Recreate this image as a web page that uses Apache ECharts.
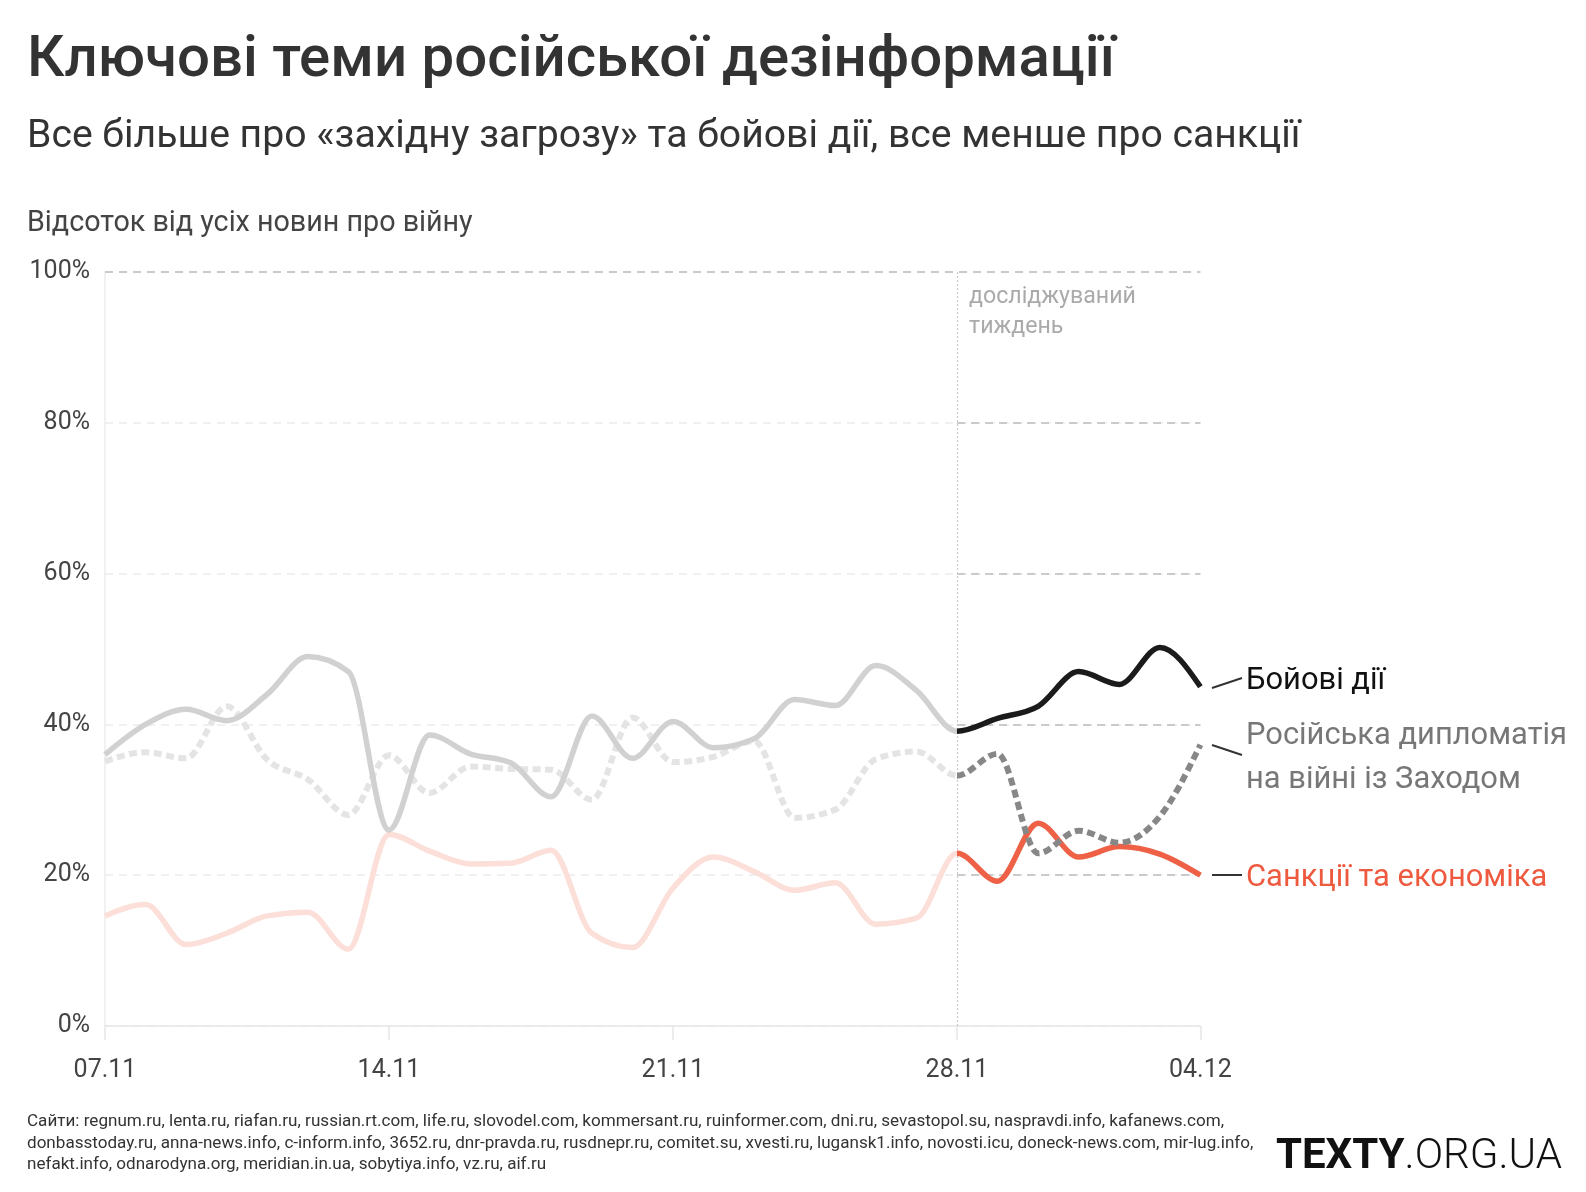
<!DOCTYPE html>
<html><head><meta charset="utf-8">
<script src="https://cdn.jsdelivr.net/npm/echarts@6/dist/echarts.min.js"></script>
<style>html,body{margin:0;padding:0;background:#fff}#c{width:1586px;height:1192px}</style>
</head><body><div id="c"></div>
<script>
// ---------- data ----------
const dates = ['07.11','08.11','09.11','10.11','11.11','12.11','13.11','14.11','15.11','16.11','17.11','18.11','19.11','20.11',
  '21.11','22.11','23.11','24.11','25.11','26.11','27.11','28.11','29.11','30.11','01.12','02.12','03.12','04.12'];
const labelDates = ['07.11','14.11','21.11','28.11','04.12'];
const combat    = [36.0,40.0,42.0,40.5,44.0,49.0,47.0,26.0,38.6,36.1,34.9,30.4,41.1,35.5,40.4,36.9,38.1,43.3,42.5,47.8,44.5,39.1,40.8,42.4,47.0,45.3,50.2,45.0];
const diplomacy = [35.1,36.3,35.5,42.4,35.3,32.7,28.0,35.9,30.9,34.4,34.1,34.0,30.0,40.9,35.0,35.7,37.8,27.6,28.7,35.4,36.4,33.2,36.1,22.9,25.9,24.3,27.8,37.3];
const sanctions = [14.6,16.1,10.8,12.3,14.6,15.1,10.2,25.4,23.2,21.5,21.6,23.3,12.3,10.4,18.3,22.4,20.5,18.0,19.0,13.5,14.3,22.9,19.2,26.9,22.4,23.8,22.8,20.0];
const focusDate = '28.11';
const gridValues = [20, 40, 60, 80];

const titleText = 'Ключові теми російської дезінформації';
const subtitleText = 'Все більше про «західну загрозу» та бойові дії, все менше про санкції';
const axisTitleText = 'Відсоток від усіх новин про війну';
const noteLines = ['досліджуваний', 'тиждень'];
const labelCombat = 'Бойові дії';
const labelDiplomacy = ['Російська дипломатія', 'на війні із Заходом'];
const labelSanctions = 'Санкції та економіка';
const sourceLines = [
  'Сайти: regnum.ru, lenta.ru, riafan.ru, russian.rt.com, life.ru, slovodel.com, kommersant.ru, ruinformer.com, dni.ru, sevastopol.su, naspravdi.info, kafanews.com,',
  'donbasstoday.ru, anna-news.info, c-inform.info, 3652.ru, dnr-pravda.ru, rusdnepr.ru, comitet.su, xvesti.ru, lugansk1.info, novosti.icu, doneck-news.com, mir-lug.info,',
  'nefakt.info, odnarodyna.org, meridian.in.ua, sobytiya.info, vz.ru, aif.ru'
];
const logoBold = 'TEXTY', logoLight = '.ORG.UA';

// ---------- helpers ----------
const FONT = 'Roboto';
const cv = document.createElement('canvas').getContext('2d');
function fit(text, weight, width) {
  cv.font = weight + ' 100px ' + FONT;
  return 100 * width / cv.measureText(text).width;
}
const focusIdx = dates.indexOf(focusDate);
const lastIdx = dates.length - 1;

function txt(x, y, text, size, fill, weight, align) {
  return { type: 'text', x: x, y: y, silent: true,
    style: { text: text, fill: fill, fontSize: size, fontFamily: FONT, fontWeight: weight || 400,
      align: align || 'left', verticalAlign: 'middle' } };
}
function seg(x1, y1, x2, y2) {
  return { type: 'line', silent: true, shape: { x1, y1, x2, y2 }, style: { stroke: '#333', lineWidth: 2 } };
}

// monotone-x cubic interpolation (as d3.curveMonotoneX) on pixel points
function tangents(p) {
  const n = p.length, t = new Array(n);
  for (let i = 1; i < n - 1; i++) {
    const h0 = p[i][0] - p[i - 1][0], h1 = p[i + 1][0] - p[i][0];
    const s0 = (p[i][1] - p[i - 1][1]) / h0, s1 = (p[i + 1][1] - p[i][1]) / h1;
    const q = (s0 * h1 + s1 * h0) / (h0 + h1);
    t[i] = (Math.sign(s0) + Math.sign(s1)) * Math.min(Math.abs(s0), Math.abs(s1), 0.5 * Math.abs(q)) || 0;
  }
  const h = p[1][0] - p[0][0];
  t[0] = (3 * (p[1][1] - p[0][1]) / h - t[1]) / 2;
  const hn = p[n - 1][0] - p[n - 2][0];
  t[n - 1] = (3 * (p[n - 1][1] - p[n - 2][1]) / hn - t[n - 2]) / 2;
  return t;
}
function pathStr(p, t, a, b) {
  let d = 'M' + p[a][0] + ' ' + p[a][1];
  for (let i = a; i < b; i++) {
    const dx = (p[i + 1][0] - p[i][0]) / 3;
    d += ' C' + (p[i][0] + dx) + ' ' + (p[i][1] + dx * t[i]) + ' ' +
         (p[i + 1][0] - dx) + ' ' + (p[i + 1][1] - dx * t[i + 1]) + ' ' +
         p[i + 1][0] + ' ' + p[i + 1][1];
  }
  return d;
}

function topicSeries(name, values, pastColor, focusColor, dash) {
  return {
    name: name, type: 'custom', coordinateSystem: 'cartesian2d', silent: true,
    data: values.map((v, i) => [i, v]),
    encode: { x: 0, y: 1 },
    renderItem: function (params, api) {
      if (params.dataIndex !== 0) return null;
      const pts = values.map((v, i) => api.coord([i, v]));
      const t = tangents(pts);
      const base = { fill: null, lineWidth: dash ? 6 : 5.5, lineCap: 'butt', lineJoin: 'round' };
      if (dash) base.lineDash = dash;
      return {
        type: 'group',
        children: [
          { type: 'path', shape: { pathData: pathStr(pts, t, 0, focusIdx) },
            style: Object.assign({}, base, { stroke: pastColor }) },
          { type: 'path', shape: { pathData: pathStr(pts, t, focusIdx, lastIdx) },
            style: Object.assign({}, base, { stroke: focusColor }) }
        ]
      };
    }
  };
}

const titleSize = fit(titleText, 500, 1088);
const subSize = fit(subtitleText, 400, 1274);
const axisTitleSize = fit(axisTitleText, 400, 446);
const noteSize = fit(noteLines[0], 400, 167);
const labSize = fit(labelDiplomacy[0], 400, 321);
const srcSize = fit(sourceLines[0], 400, 1198);

const markData = gridValues.map(v => [
  { coord: [dates[focusIdx], v] }, { coord: [dates[lastIdx], v] }
]);
markData.push([{ coord: [dates[0], 100] }, { coord: [dates[lastIdx], 100] }]);
markData.push([{ coord: [focusDate, 0], lineStyle: { type: [2, 2], color: '#c9c9c9', width: 1.2 } },
               { coord: [focusDate, 100] }]);

const showIdx = (i) => labelDates.indexOf(dates[i]) >= 0;

const chart = echarts.init(document.getElementById('c'), null, { renderer: 'canvas' });
chart.setOption({
  animation: false,
  backgroundColor: '#fff',
  grid: { left: 105, right: 385.6, top: 272, bottom: 166, containLabel: false },
  xAxis: {
    type: 'category', data: dates, boundaryGap: false,
    axisLine: { show: true, lineStyle: { color: '#e6e6e6', width: 1.5 } },
    axisTick: { show: true, interval: (i) => showIdx(i), length: 14, lineStyle: { color: '#e6e6e6', width: 1.5 } },
    axisLabel: { interval: (i) => showIdx(i), color: '#444', fontSize: 25, fontFamily: FONT, margin: 32 },
    splitLine: { show: false }
  },
  yAxis: {
    type: 'value', min: 0, max: 100, interval: 20,
    axisLine: { show: true, lineStyle: { color: '#ececec', width: 1.5 } },
    axisTick: { show: false },
    axisLabel: { formatter: '{value}%', color: '#444', fontSize: 25, fontFamily: FONT, margin: 15,
      padding: [5, 0, 0, 0] },
    splitLine: { show: true, lineStyle: { color: '#ececec', type: [8, 6], width: 1.5 } }
  },
  series: [
    {
      type: 'line', data: [], silent: true, z: 1,
      markLine: {
        silent: true, symbol: 'none', z: 1, animation: false,
        label: { show: false },
        lineStyle: { color: '#bdbdbd', type: [8, 6], width: 1.5 },
        data: markData
      }
    },
    topicSeries('Санкції та економіка', sanctions, '#fbdfd8', '#ee6146'),
    topicSeries('Російська дипломатія на війні із Заходом', diplomacy, '#e4e4e4', '#878787', [8, 4.5]),
    topicSeries('Бойові дії', combat, '#d1d1d1', '#1b1b1b')
  ],
  graphic: [
    txt(27, 61, titleText, titleSize, '#333', 500),
    txt(27, 137, subtitleText, subSize, '#333', 400),
    txt(27, 224, axisTitleText, axisTitleSize, '#444', 400),
    txt(969, 297, noteLines[0], noteSize, '#aaa', 400),
    txt(969, 327, noteLines[1], noteSize, '#aaa', 400),
    seg(1212, 688, 1242, 678),
    seg(1212, 745, 1242, 755),
    seg(1212, 875, 1242, 875),
    txt(1246, 681, labelCombat, labSize, '#111', 400),
    txt(1246, 736, labelDiplomacy[0], labSize, '#777', 400),
    txt(1246, 780, labelDiplomacy[1], labSize, '#777', 400),
    txt(1246, 878, labelSanctions, labSize, '#ee5a3f', 400),
    txt(27, 1122, sourceLines[0], srcSize, '#333', 400),
    txt(27, 1143.5, sourceLines[1], srcSize, '#333', 400),
    txt(27, 1165, sourceLines[2], srcSize, '#333', 400),
    { type: 'text', x: 1562, y: 1157, silent: true,
      style: { text: '{b|' + logoBold + '}{l|' + logoLight + '}', align: 'right', verticalAlign: 'middle',
        rich: { b: { fontSize: 42, fontWeight: 700, fontFamily: FONT, fill: '#111', letterSpacing: -1.5 },
                l: { fontSize: 42, fontWeight: 300, fontFamily: FONT, fill: '#111', letterSpacing: -1 } } } }
  ]
});
</script></body></html>
